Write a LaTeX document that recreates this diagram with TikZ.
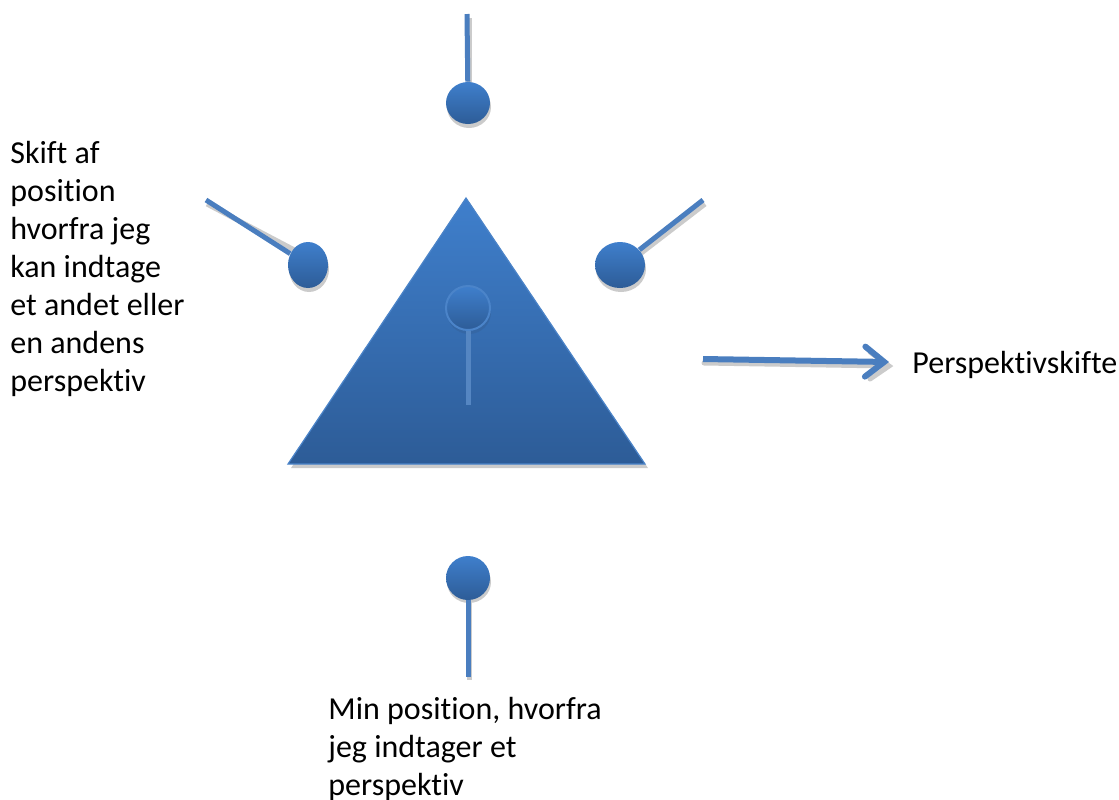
\documentclass[tikz,border=0pt]{standalone}
\usepackage{fontspec}
\setmainfont{Carlito}[Ligatures=NoCommon]
\usetikzlibrary{arrows.meta,shapes.geometric}
\definecolor{pinline}{HTML}{4A7EBF}
\definecolor{topblue}{HTML}{3F7FCC}
\definecolor{botblue}{HTML}{2D5C97}
\definecolor{shadegray}{HTML}{CBCBCB}
\definecolor{inline}{HTML}{5586C2}
\definecolor{inrim}{HTML}{4B84C9}
\definecolor{inshadow}{HTML}{3567A5}
\tikzset{
  pinball/.style={circle, inner sep=0pt, minimum size=22pt, top color=topblue, bottom color=botblue, draw=none},
  ballshadow/.style={fill=shadegray, draw=none},
  stick/.style={draw=pinline, line width=2.5pt},
  stickshadow/.style={draw=shadegray, line width=2.5pt},
  lbl/.style={font=\fontsize{16pt}{19pt}\selectfont, align=left, inner sep=0pt, text=black},
}
\begin{document}
\begin{tikzpicture}[x=0.5pt,y=-0.5pt]
\useasboundingbox (0,0) rectangle (1119,799);

% ---------- shadows ----------
\fill[shadegray] (469,202) -- (648,468) -- (291,468) -- cycle;
\draw[stickshadow] (207,204) -- (302,254);
\draw[stickshadow] (705,204) -- (640,254);
\draw[stickshadow] (469,18) -- (469,90);
\draw[stickshadow] (469,600) -- (469,680);
\draw[stickshadow, line cap=round] (704,363) -- (888,366);
\draw[stickshadow, line cap=round] (870,352) -- (889,366) -- (870,379);
\fill[shadegray] (469,107) circle[x radius=22, y radius=21];
\fill[shadegray] (309,269) ellipse[x radius=20, y radius=23];
\fill[shadegray] (621,269) ellipse[x radius=25, y radius=23];
\fill[shadegray] (469,582) circle[x radius=22, y radius=21];

% ---------- triangle ----------
\path[top color=topblue, bottom color=botblue] (466,198) -- (645,464) -- (288,464) -- cycle;
\draw[inrim, line width=0.6pt] (466,198) -- (645,464) -- (288,464) -- cycle;

% ---------- inner pin ----------
\fill[inshadow] (469,312) circle[radius=22];
\node[pinball, draw=inrim, line width=1pt] (pmid) at (468,308) {};
\coordinate (mend) at (468,405);
\draw[draw=inline, line width=2.5pt] (pmid) -- (mend);

% ---------- outer pins ----------
\coordinate (ttop) at (467,14);
\node[pinball, minimum width=22pt, minimum height=21pt, ellipse] (ptop) at (468,103) {};
\draw[stick] (ttop) -- (ptop);

\coordinate (tleft) at (206,200);
\node[pinball, ellipse, minimum width=20pt, minimum height=23pt] (pleft) at (308,265) {};
\draw[stick] (tleft) -- (pleft);

\coordinate (tright) at (703,200);
\node[pinball, ellipse, minimum width=25pt, minimum height=23pt] (pright) at (620,265) {};
\draw[stick] (tright) -- (pright);

\node[pinball] (pbot) at (468,578) {};
\coordinate (tbot) at (468,677);
\draw[stick] (pbot) -- (tbot);

% ---------- arrow ----------
\coordinate (astart) at (703,359);
\coordinate (aend) at (889,362);
\draw[stick, line width=3pt, -{Straight Barb[length=9.5pt,width=15pt,line cap=round]}] (astart) -- (aend);

% ---------- texts ----------
\node[lbl, anchor=base west] (skift) at (10,391) {Skift af\\position\\hvorfra jeg\\kan indtage\\et andet eller\\en andens\\perspektiv};
\node[lbl, anchor=base west] (persp) at (912,373) {Perspektivskifte};
\node[lbl, anchor=base west] (minpos) at (328,795) {Min position, hvorfra\\jeg indtager et\\perspektiv};
\end{tikzpicture}
\end{document}
